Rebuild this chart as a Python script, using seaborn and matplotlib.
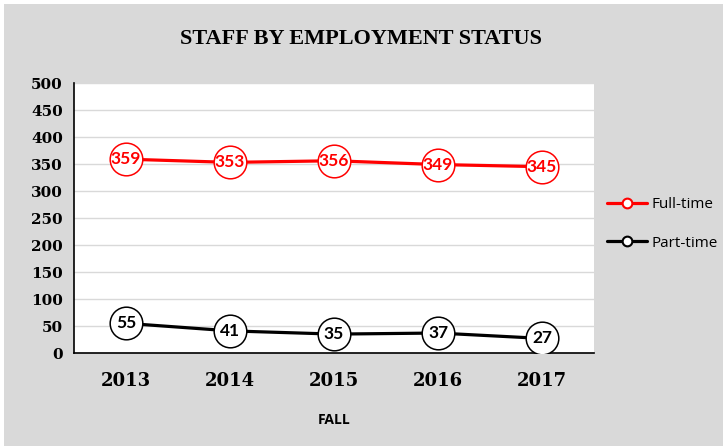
import numpy as np
import pandas as pd
import matplotlib
matplotlib.use("Agg")
import matplotlib.pyplot as plt
from matplotlib.patches import Rectangle
import seaborn as sns

# chart data
years = ["2013", "2014", "2015", "2016", "2017"]
full_time = [359, 353, 356, 349, 345]
part_time = [55, 41, 35, 37, 27]
series_names = ["Full-time", "Part-time"]
y_ticks = [0, 50, 100, 150, 200, 250, 300, 350, 400, 450, 500]

df = pd.DataFrame({
    "year": years * 2,
    "staff": full_time + part_time,
    "status": [series_names[0]] * len(years) + [series_names[1]] * len(years),
})

sns.set_style("white")
plt.rcParams.update({"text.color": "black", "axes.labelcolor": "black",
                     "xtick.color": "black", "ytick.color": "black"})
colors = {"Full-time": "#ff0000", "Part-time": "#000000"}
bg = "#d9d9d9"

fig = plt.figure(figsize=(7.23, 4.46), dpi=100, facecolor="white")
# grey chart area with thin white border
fig.patches.append(Rectangle((0.005, 0.0), 0.995, 0.99, transform=fig.transFigure,
                             facecolor=bg, edgecolor="none", zorder=-10))
ax = fig.add_axes([0.1024, 0.2085, 0.7192, 0.6054])
ax.set_facecolor("white")

sns.lineplot(data=df, x="year", y="staff", hue="status", palette=colors,
             marker="o", markersize=23.5, markerfacecolor="white",
             markeredgewidth=1.1, linewidth=2.3, ax=ax, zorder=3)
for line in ax.lines:
    line.set_markeredgecolor(line.get_color())

# value labels inside the circles
for vals, name in [(full_time, "Full-time"), (part_time, "Part-time")]:
    for i, v in enumerate(vals):
        ax.text(i, v, str(v), ha="center", va="center", color=colors[name],
                fontsize=12.5, fontweight="bold", family="Lato", zorder=5)

ax.set_xlim(-0.5, len(years) - 0.5)
ax.set_ylim(0, 500)
ax.set_yticks(y_ticks)
ax.set_yticklabels([str(t) for t in y_ticks], fontsize=11, fontweight="bold",
                   family="DejaVu Serif")
ax.set_xticks(range(len(years)))
ax.set_xticklabels(years, fontsize=13, fontweight="bold", family="DejaVu Serif")
ax.set_xticks(np.arange(-0.5, len(years)), minor=True)
ax.tick_params(axis="x", which="major", length=0, pad=14)
ax.tick_params(axis="x", which="minor", length=6, width=1, color="black", direction="out")
ax.tick_params(axis="y", length=5, width=1, color="black", direction="out", pad=3)

ax.yaxis.grid(True, color=bg, linewidth=1)
ax.set_axisbelow(True)
for s in ["top", "right"]:
    ax.spines[s].set_visible(False)
for s in ["left", "bottom"]:
    ax.spines[s].set_color("black")
    ax.spines[s].set_linewidth(1.2)

ax.set_ylabel("")
ax.set_xlabel("FALL", fontsize=10, fontweight="bold", family="Open Sans", labelpad=16)

fig.text(0.5, 0.912, "STAFF BY EMPLOYMENT STATUS", ha="center", va="center",
         fontsize=16, fontweight="bold", family="Liberation Serif")

handles, labels = ax.get_legend_handles_labels()
leg = ax.legend(handles, labels, loc="center left", bbox_to_anchor=(1.013, 0.478),
                borderaxespad=0, frameon=False, handlelength=2.6, labelspacing=1.55,
                handletextpad=0.3, prop={"family": "Open Sans", "size": 11})
for line in leg.get_lines():
    line.set_markersize(7)
    line.set_markeredgewidth(1.5)
    line.set_markeredgecolor(line.get_color())
    line.set_linewidth(2.3)

fig.savefig("out.png", dpi=100, facecolor="white")
